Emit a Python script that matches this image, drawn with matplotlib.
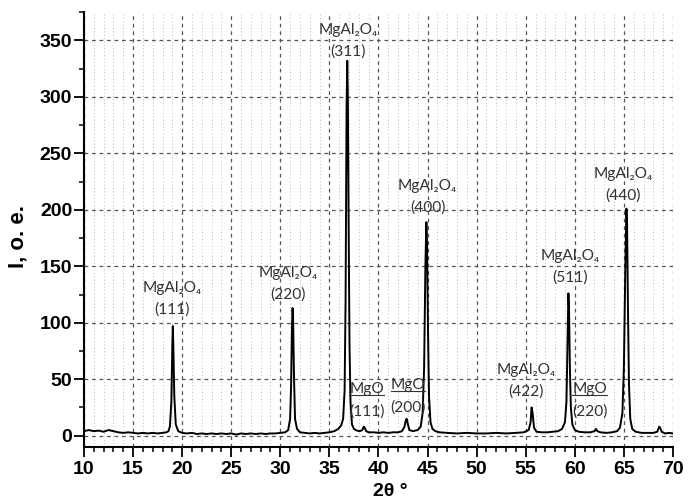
import matplotlib
matplotlib.use("Agg")
import matplotlib.pyplot as plt
from matplotlib.ticker import MultipleLocator
from matplotlib.lines import Line2D

# ---- data ----
two_theta = [10.0, 10.5, 11.0, 11.5, 12.0, 12.5, 13.0, 13.5, 14.0, 14.5, 15.0, 15.5, 16.0, 16.5, 17.0, 17.5, 18.0, 18.4,
             18.6, 18.75, 18.9, 19.0, 19.05, 19.1, 19.2, 19.35, 19.6, 20.0,
             20.5, 21.0, 21.5, 22.0, 22.5, 23.0, 23.5, 24.0, 24.5, 25.0, 25.5, 26.0, 26.5, 27.0, 27.5, 28.0, 28.5, 29.0, 29.5, 30.0, 30.5,
             30.8, 31.0, 31.1, 31.2, 31.25, 31.3, 31.4, 31.5, 31.7, 32.0,
             32.5, 33.0, 33.5, 34.0, 34.5, 35.0, 35.5, 35.9, 36.2, 36.4, 36.55, 36.65, 36.75, 36.82, 36.88, 36.95, 37.05, 37.15, 37.3, 37.5,
             37.8, 38.1, 38.35, 38.5, 38.6, 38.75, 39.0, 39.5, 40.0, 40.5, 41.0, 41.5, 42.0, 42.4, 42.65, 42.8, 42.88, 43.0, 43.15, 43.5,
             44.0, 44.3, 44.5, 44.65, 44.78, 44.88, 44.95, 45.05, 45.15, 45.3, 45.5, 45.8, 46.2,
             47.0, 48.0, 49.0, 50.0, 51.0, 52.0, 53.0, 54.0, 54.8, 55.3, 55.5, 55.6, 55.7, 55.85, 56.1, 56.6, 57.2, 57.8, 58.3, 58.7,
             59.0, 59.15, 59.25, 59.35, 59.42, 59.5, 59.6, 59.75, 60.0, 60.4, 61.0, 61.6, 62.0, 62.15, 62.3, 62.6, 63.2, 63.8,
             64.3, 64.6, 64.85, 65.0, 65.15, 65.26, 65.33, 65.42, 65.52, 65.65, 65.85, 66.2, 66.8, 67.4, 68.0, 68.4, 68.6, 68.7,
             68.85, 69.2, 69.6, 70.0]
intensity = [4, 5, 4, 4.5, 3.5, 5, 4, 3, 2.5, 3, 2.5, 2, 2.5, 2, 2.5, 2, 2.5, 3,
             4, 8, 30, 80, 97, 80, 35, 10, 4, 2.5,
             2, 2.5, 1.5, 2, 1.5, 2, 1.5, 2, 1.5, 2, 1, 2, 1.5, 2, 1.5, 2, 1.5, 2, 2, 2.5, 3,
             5, 15, 45, 100, 113, 105, 50, 15, 6, 3,
             2.5, 2, 2.5, 2, 2.5, 3, 4, 6, 9, 15, 40, 120, 290, 332, 300, 200, 80, 30, 10, 6,
             4.5, 4, 5, 8, 7, 4, 3, 3, 2.5, 3, 2.5, 3, 3, 4, 8, 14, 15, 10, 5, 4,
             5, 8, 20, 60, 150, 189, 170, 90, 35, 12, 6, 4, 3,
             2.5, 2, 2.5, 2, 2, 2.5, 2, 2.5, 3, 5, 12, 25, 20, 7, 3.5, 3, 3, 3.5, 4, 6,
             12, 30, 80, 126, 110, 60, 25, 10, 5, 3.5, 3, 3, 4, 6, 4, 3, 2.5, 3,
             4, 7, 20, 60, 150, 201, 185, 110, 45, 15, 6, 3.5, 2.5, 2.5, 2.5, 3.5, 8, 7,
             3.5, 2, 2.5, 2]

spinel_labels = ["(111)", "(220)", "(311)", "(400)", "(422)", "(511)", "(440)"]
spinel_label_x = [18.96, 30.8, 36.9, 45.0, 55.0, 59.5, 64.9]
spinel_label_y = [112, 125, 340, 202, 39, 140, 213]

mgo_labels = ["(111)", "(200)", "(220)"]
mgo_label_x = [38.8, 43.0, 61.5]
mgo_label_y = [21, 25, 21]

x_ticks = list(range(10, 71, 5))
y_ticks = list(range(0, 351, 50))

# ---- figure ----
fig = plt.figure(figsize=(6.97, 5.01), dpi=100)
ax = fig.add_axes([0.1205, 0.1078, 0.845, 0.868])

ax.set_xlim(10, 70)
ax.set_ylim(-10, 375)

ax.set_xticks(x_ticks)
ax.set_yticks(y_ticks)
ax.xaxis.set_minor_locator(MultipleLocator(1))
ax.yaxis.set_minor_locator(MultipleLocator(25))

ax.grid(which="major", color="#555555", linestyle=(0, (3, 3)), linewidth=0.9)
ax.grid(which="minor", axis="x", color="#b8b8b8", linestyle=(0, (1, 2.5)), linewidth=0.7)
ax.set_axisbelow(True)

for s in ["top", "right"]:
    ax.spines[s].set_visible(False)
for s in ["left", "bottom"]:
    ax.spines[s].set_linewidth(1.5)

ax.tick_params(which="major", direction="out", length=7, width=1.3)
ax.tick_params(which="minor", direction="out", length=3.5, width=1.1)
ax.tick_params(axis="x", which="major", pad=3)
ax.tick_params(axis="y", which="major", pad=1.5)
for lab in ax.get_xticklabels() + ax.get_yticklabels():
    lab.set_fontfamily("Liberation Sans")
    lab.set_fontweight("bold")
    lab.set_fontsize(14)

ax.plot(two_theta, intensity, color="black", linewidth=1.4)

ax.set_xlabel("2θ °", fontfamily="Liberation Sans", fontweight="bold", fontsize=14)
ax.xaxis.set_label_coords(0.52, -0.083)
ax.set_ylabel("I, o. e.", fontfamily="Liberation Sans", fontweight="bold", fontsize=16)
ax.yaxis.set_label_coords(-0.095, 0.483)

ann_font = dict(family=["Lato", "DejaVu Sans"], fontsize=11.2, color="#333333", ha="center", va="center")
for lab, x, y in zip(spinel_labels, spinel_label_x, spinel_label_y):
    ax.text(x, y + 19, "MgAl₂O₄", **ann_font)
    ax.text(x, y, lab, **ann_font)

mgo_texts = []
for lab, x, y in zip(mgo_labels, mgo_label_x, mgo_label_y):
    t = ax.text(x, y + 20, "MgO", **ann_font)
    mgo_texts.append(t)
    ax.text(x, y, lab, **ann_font)

# underline the MgO labels
fig.canvas.draw()
renderer = fig.canvas.get_renderer()
inv = fig.transFigure.inverted()
for t in mgo_texts:
    bb = t.get_window_extent(renderer)
    (x0, y0) = inv.transform((bb.x0, bb.y0 + 1))
    (x1, _) = inv.transform((bb.x1, bb.y0 + 1))
    fig.add_artist(Line2D([x0, x1], [y0, y0], transform=fig.transFigure, color="#333333", linewidth=0.8))

fig.savefig("out.png", dpi=100)
